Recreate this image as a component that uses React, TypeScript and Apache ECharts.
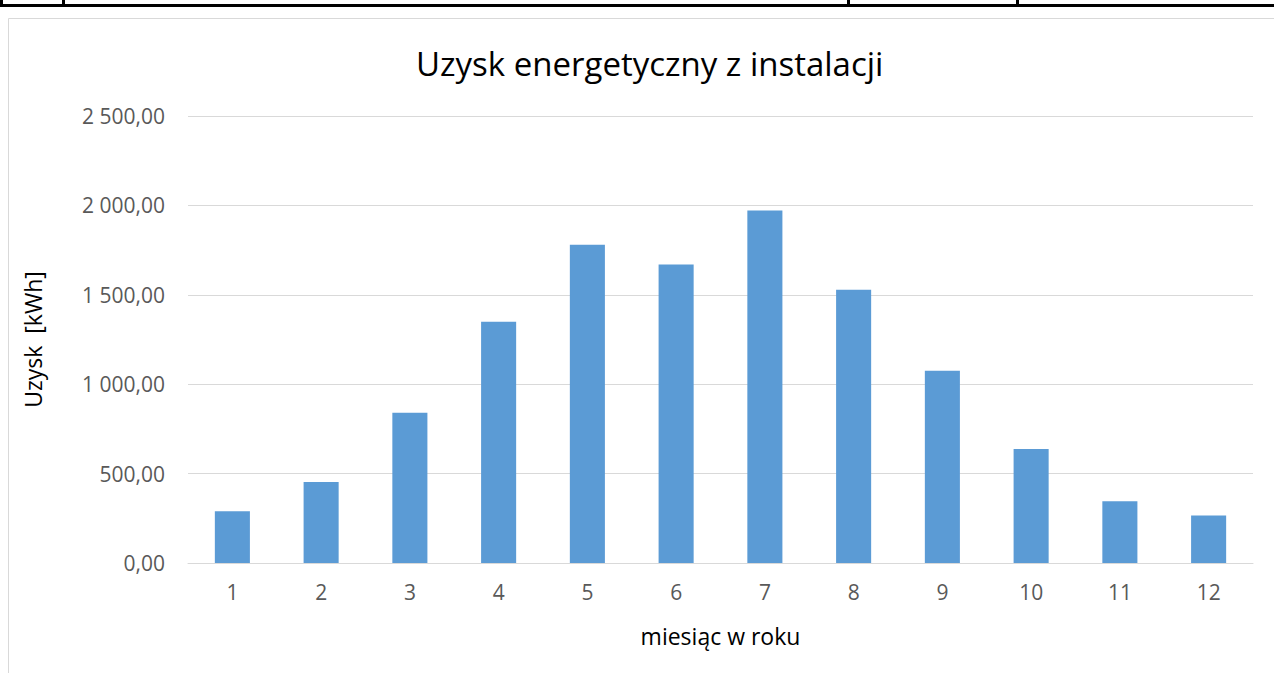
import React, { useEffect, useRef } from "react";
import * as echarts from "echarts";

const months = ["1", "2", "3", "4", "5", "6", "7", "8", "9", "10", "11", "12"];
const yieldKWh = [290, 453, 840, 1349, 1780, 1670, 1972, 1528, 1075, 637, 345, 266];
const titleText = "Uzysk energetyczny z instalacji";
const yAxisName = "Uzysk  [kWh]";
const xAxisName = "miesiąc w roku";

const fmt = (v: number) => {
  const parts = v.toFixed(2).split(".");
  const intPart = parts[0].replace(/\B(?=(\d{3})+(?!\d))/g, " ");
  return intPart + "," + parts[1];
};

export default function App() {
  const ref = useRef<HTMLDivElement>(null);
  useEffect(() => {
    if (!ref.current) return;
    const chart = echarts.init(ref.current, null, { renderer: "svg" });
    const font = "Open Sans";
    chart.setOption({
      animation: false,
      backgroundColor: "#ffffff",
      textStyle: { fontFamily: font },
      title: {
        text: titleText,
        left: 411,
        top: 42,
        textStyle: { fontFamily: font, fontSize: 33, fontWeight: "normal", color: "#000000" },
      },
      grid: { left: 188, right: 21, top: 116, bottom: 110, containLabel: false },
      xAxis: {
        type: "category",
        data: months,
        name: xAxisName,
        nameLocation: "middle",
        nameGap: 61,
        nameTextStyle: { fontFamily: font, fontSize: 23, color: "#000000" },
        axisLine: { show: true, lineStyle: { color: "#d9d9d9", width: 1 } },
        axisTick: { show: false },
        axisLabel: { color: "#595959", fontSize: 21, margin: 18, fontFamily: font },
      },
      yAxis: {
        type: "value",
        min: 0,
        max: 2500,
        interval: 500,
        name: yAxisName,
        nameLocation: "middle",
        nameGap: 144,
        nameRotate: 90,
        nameTextStyle: { fontFamily: font, fontSize: 23, color: "#000000" },
        axisLine: { show: false },
        axisTick: { show: false },
        axisLabel: { color: "#595959", fontSize: 21, margin: 23, fontFamily: font, formatter: (v: number) => fmt(v) },
        splitLine: { show: true, lineStyle: { color: "#d9d9d9", width: 1 } },
      },
      series: [
        {
          type: "bar",
          data: yieldKWh,
          barWidth: "39.5%",
          itemStyle: { color: "#5b9bd5" },
        },
      ],
      graphic: [
        { type: "rect", shape: { x: 8.5, y: 18.5, width: 1300, height: 700 }, style: { fill: "none", stroke: "#d9d9d9", lineWidth: 1 }, silent: true },
        { type: "rect", shape: { x: 0, y: 4, width: 1274, height: 3 }, style: { fill: "#000000" }, silent: true },
        { type: "rect", shape: { x: 0, y: 0, width: 3, height: 7 }, style: { fill: "#000000" }, silent: true },
        { type: "rect", shape: { x: 62, y: 0, width: 3, height: 7 }, style: { fill: "#000000" }, silent: true },
        { type: "rect", shape: { x: 847, y: 0, width: 3, height: 7 }, style: { fill: "#000000" }, silent: true },
        { type: "rect", shape: { x: 1016, y: 0, width: 3, height: 7 }, style: { fill: "#000000" }, silent: true },
      ],
    });
    return () => chart.dispose();
  }, []);
  return (
    <div
      ref={ref}
      style={{ position: "fixed", left: 0, top: 0, width: 1274, height: 673, background: "#fff" }}
    />
  );
}
